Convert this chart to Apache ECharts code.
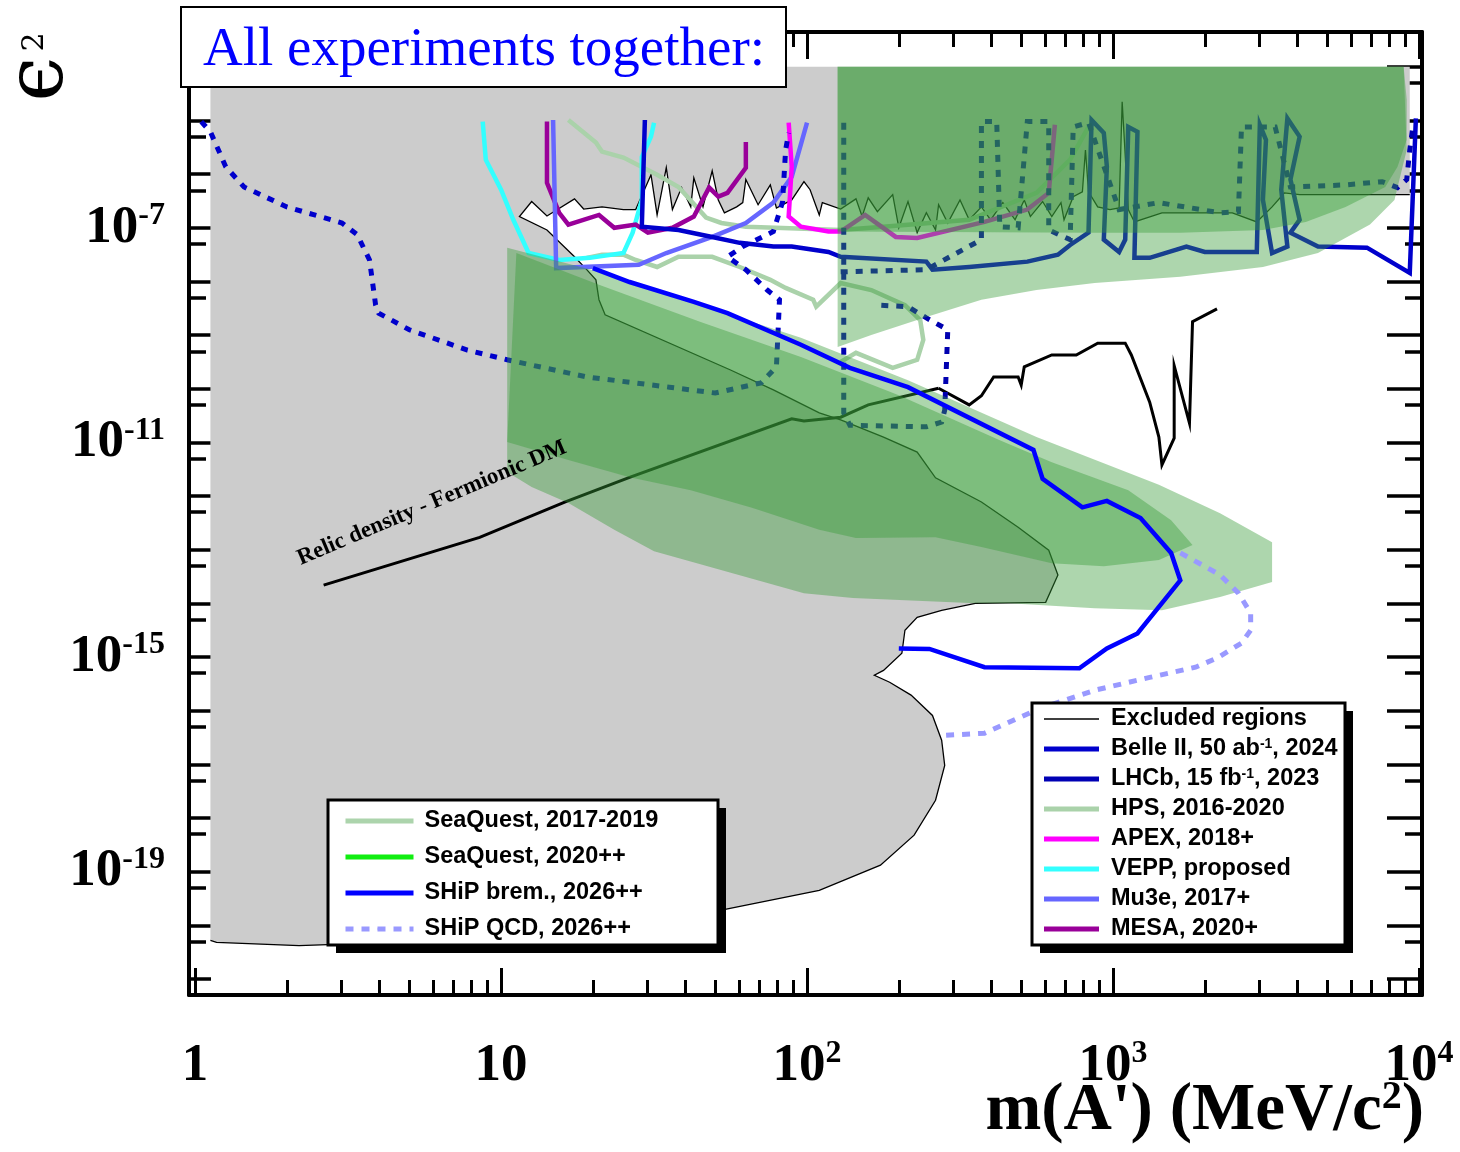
<!DOCTYPE html>
<html>
<head>
<meta charset="utf-8">
<script src="https://cdn.jsdelivr.net/npm/echarts@6/dist/echarts.min.js"></script>
<style>
  html, body { margin: 0; padding: 0; background: #fff; }
  #chart { width: 1460px; height: 1152px; }
</style>
</head>
<body>
<div id="chart"></div>
<script>
// Every curve below is a list of [log10(m / MeV), log10(eps^2)] points.

// Lower edge of the already excluded region (right to left, then down and round)
const excludedEdge = [
  [3.97,-6.38],[3.61,-6.38],[3.56,-6.35],[3.52,-6.61],[3.47,-6.89],[3.39,-6.72],[3.16,-6.72],[3.07,-6.89],
  [3.05,-6.66],[3.03,-4.65],[3.02,-6.63],[2.99,-6.66],[2.95,-6.61],[2.92,-6.33],[2.91,-5.55],[2.90,-6.33],
  [2.87,-6.42],[2.84,-6.85],[2.83,-6.53],[2.80,-6.79],[2.77,-6.51],[2.73,-6.79],[2.71,-6.48],[2.68,-6.85],
  [2.64,-6.53],[2.60,-6.85],[2.57,-6.61],[2.53,-6.85],[2.50,-6.48],[2.46,-6.91],[2.43,-6.57],[2.42,-7.04],
  [2.39,-6.72],[2.36,-7.09],[2.33,-6.51],[2.30,-7.00],[2.28,-6.38],[2.23,-6.70],[2.20,-6.44],[2.18,-6.79],
  [2.16,-6.46],[2.11,-6.65],[2.05,-6.53],[2.04,-6.76],[2.01,-6.29],[1.99,-6.14],[1.95,-6.48],[1.90,-6.63],
  [1.88,-6.20],[1.84,-6.57],[1.80,-6.10],[1.79,-6.53],[1.77,-6.61],[1.73,-6.72],[1.71,-6.48],[1.69,-5.94],
  [1.66,-6.61],[1.63,-6.07],[1.62,-6.61],[1.59,-6.25],[1.56,-6.66],[1.54,-5.88],[1.51,-6.76],[1.49,-6.01],
  [1.44,-6.66],[1.40,-6.66],[1.33,-6.61],[1.27,-6.65],[1.24,-6.46],[1.15,-6.78],[1.10,-6.51],[1.06,-6.79],
  [1.15,-7.04],[1.24,-7.54],[1.28,-7.78],[1.31,-7.97],[1.32,-8.34],[1.34,-8.62],[1.75,-9.65],[1.89,-10.02],
  [2.04,-10.45],[2.11,-10.58],[2.25,-10.90],[2.36,-11.18],[2.42,-11.66],[2.57,-12.11],[2.69,-12.58],
  [2.79,-13.01],[2.82,-13.47],[2.78,-13.98],[2.55,-14.00],[2.44,-14.13],[2.36,-14.26],[2.32,-14.50],
  [2.31,-14.93],[2.25,-15.25],[2.22,-15.34],[2.27,-15.47],[2.34,-15.71],[2.41,-16.09],[2.44,-16.55],
  [2.45,-17.02],[2.42,-17.67],[2.35,-18.32],[2.24,-18.88],[2.04,-19.35],[1.72,-19.72],[1.32,-20.06],
  [0.83,-20.28],[0.34,-20.38],[0.07,-20.32],[0.05,-20.28]
];
// Upper corners of the excluded region
const excludedTop = [[0.05,-4.00],[3.97,-4.00]];

// Beam-dump limit at higher mass
const excludedHighMass = [
  [2.43,-9.99],[2.53,-10.30],[2.57,-10.13],[2.61,-9.78],[2.69,-9.78],[2.70,-9.93],[2.71,-9.59],[2.80,-9.37],
  [2.88,-9.37],[2.95,-9.15],[3.04,-9.15],[3.06,-9.37],[3.12,-10.25],[3.15,-10.90],[3.16,-11.42],[3.20,-10.92],
  [3.20,-9.57],[3.25,-10.64],[3.26,-8.75],[3.34,-8.51]
];

// Relic density target, fermionic dark matter
const relicLine = [
  [0.42,-13.66],[0.93,-12.77],[1.21,-12.11],[1.42,-11.65],[1.95,-10.56],[1.99,-10.60],[2.11,-10.53],
  [2.20,-10.30],[2.43,-9.99]
];

const shipBrem = [
  [1.30,-7.75],[1.42,-8.01],[1.63,-8.38],[1.74,-8.59],[1.98,-9.18],[2.14,-9.61],[2.33,-9.97],[2.74,-11.14],
  [2.77,-11.68],[2.90,-12.21],[2.98,-12.09],[3.09,-12.41],[3.19,-13.06],[3.22,-13.57],[3.08,-14.56],
  [2.98,-14.84],[2.89,-15.21],[2.58,-15.19],[2.40,-14.85],[2.30,-14.84]
];
const shipQCD = [
  [3.22,-13.06],[3.35,-13.47],[3.41,-13.81],[3.45,-14.18],[3.45,-14.50],[3.42,-14.74],[3.34,-15.02],
  [3.27,-15.19],[3.12,-15.38],[2.94,-15.62],[2.76,-15.96],[2.58,-16.42],[2.45,-16.46]
];

const belle2 = [
  [1.47,-4.99],[1.46,-6.98],[1.58,-7.04],[1.69,-7.17],[1.78,-7.28],[1.89,-7.35],[1.95,-7.35],[2.07,-7.45],
  [2.11,-7.54],[2.39,-7.63],[2.41,-7.78],[2.53,-7.73],[2.72,-7.63],[2.82,-7.50],[2.86,-7.32],[2.92,-7.09],
  [2.93,-4.99],[2.97,-5.23],[2.98,-5.86],[2.97,-7.22],[3.02,-7.45],[3.04,-7.22],[3.05,-5.12],[3.08,-5.21],
  [3.07,-7.56],[3.12,-7.56],[3.24,-7.35],[3.30,-7.45],[3.47,-7.45],[3.48,-5.08],[3.50,-5.36],[3.49,-6.48],
  [3.52,-7.47],[3.57,-7.35],[3.55,-6.29],[3.57,-4.96],[3.61,-5.30],[3.58,-6.10],[3.61,-6.85],[3.58,-7.09],
  [3.67,-7.35],[3.83,-7.37],[3.97,-7.84],[3.99,-4.96]
];

const lhcbLowMass = [
  [0.02,-5.02],[0.05,-5.21],[0.10,-5.86],[0.16,-6.24],[0.30,-6.61],[0.39,-6.76],[0.48,-6.91],[0.53,-7.13],
  [0.57,-7.60],[0.59,-8.44],[0.60,-8.59],[0.70,-8.90],[0.89,-9.28],[1.02,-9.46],[1.28,-9.78],[1.55,-9.97],
  [1.70,-10.08],[1.85,-9.89],[1.90,-9.59],[1.91,-8.34],[1.87,-8.16],[1.80,-7.78],[1.74,-7.54],[1.79,-7.35],
  [1.89,-7.07],[1.92,-6.52],[1.93,-5.55],[1.94,-5.23]
];
const lhcbDisplaced = [
  [2.12,-5.04],[2.12,-10.45],[2.14,-10.68],[2.39,-10.71],[2.44,-10.62],[2.45,-10.40],[2.46,-8.90],
  [2.39,-8.68],[2.33,-8.47],[2.23,-8.44]
];
const lhcbPrompt = [
  [2.11,-7.82],[2.39,-7.78],[2.57,-7.22],[2.57,-5.02],[2.62,-5.02],[2.63,-6.98],[2.69,-7.00],[2.72,-5.02],
  [2.79,-5.02],[2.79,-7.04],[2.86,-7.22],[2.87,-5.12],[2.92,-5.04],[3.02,-6.66],[3.15,-6.53],[3.35,-6.72],
  [3.41,-6.70],[3.42,-5.12],[3.53,-5.12],[3.58,-6.24],[3.76,-6.20],[3.88,-6.14],[3.93,-6.25],[3.96,-6.10],
  [3.97,-5.55],[3.98,-5.12]
];

const mu3e = [
  [1.17,-4.99],[1.18,-7.75],[1.45,-7.69],[1.54,-7.47],[1.69,-7.17],[1.80,-6.91],[1.89,-6.53],[1.95,-6.05],
  [2.00,-5.04]
];
const vepp = [
  [0.94,-5.02],[0.95,-5.73],[1.00,-6.29],[1.04,-6.85],[1.09,-7.47],[1.19,-7.60],[1.29,-7.56],[1.40,-7.47],
  [1.43,-7.09],[1.46,-6.48],[1.46,-5.68],[1.49,-5.30],[1.50,-5.04]
];
const mesa = [
  [1.15,-5.02],[1.15,-6.16],[1.19,-6.72],[1.22,-6.94],[1.32,-6.76],[1.37,-7.00],[1.44,-6.94],[1.48,-7.09],
  [1.56,-7.00],[1.63,-6.79],[1.68,-6.25],[1.71,-6.42],[1.74,-6.35],[1.80,-5.88],[1.80,-5.40]
];
const apex = [
  [1.94,-5.04],[1.95,-5.86],[1.94,-6.79],[1.98,-6.98],[2.07,-7.07],[2.11,-7.07],[2.19,-6.76],[2.29,-7.17],
  [2.36,-7.19],[2.58,-6.89],[2.72,-6.66],[2.79,-6.35],[2.81,-5.08]
];
const hpsBump = [
  [1.22,-4.99],[1.31,-5.41],[1.33,-5.58],[1.40,-5.69],[1.51,-6.01],[1.58,-6.24],[1.67,-6.81],[1.72,-6.91],
  [1.80,-6.98],[2.11,-7.04],[2.25,-6.98],[2.53,-6.85],[2.75,-6.35],[2.86,-5.73],[2.92,-5.12]
];
const hpsVertex = [
  [1.28,-7.56],[1.33,-7.50],[1.40,-7.50],[1.44,-7.60],[1.51,-7.73],[1.58,-7.54],[1.69,-7.54],[1.78,-7.73],
  [1.88,-7.97],[1.93,-8.12],[2.02,-8.34],[2.03,-8.47],[2.11,-8.03],[2.21,-8.16],[2.32,-8.44],[2.37,-8.72],
  [2.38,-9.09],[2.36,-9.46],[2.28,-9.61],[2.16,-9.33],[2.11,-9.50]
];

// Shaded SeaQuest reach (overlapping translucent layers)
const seaquestHighOuter = [
  [2.10,-4.00],[3.95,-4.00],[3.96,-5.55],[3.92,-6.48],[3.84,-6.94],[3.67,-7.47],[3.49,-7.73],[3.22,-7.91],
  [2.94,-8.03],[2.75,-8.16],[2.57,-8.34],[2.39,-8.66],[2.21,-9.00],[2.10,-9.22]
];
const seaquestHighInner = [
  [2.10,-4.00],[3.95,-4.00],[3.96,-4.61],[3.96,-5.36],[3.93,-5.86],[3.89,-6.24],[3.76,-6.61],[3.63,-6.89],
  [3.49,-7.04],[3.22,-7.09],[2.94,-7.09],[2.10,-7.07]
];
const seaquestLowOuter = [
  [1.02,-7.37],[1.32,-7.82],[1.65,-8.44],[1.98,-9.05],[2.33,-9.84],[2.75,-10.90],[3.15,-11.79],[3.35,-12.32],
  [3.52,-12.86],[3.52,-13.60],[3.35,-13.88],[3.16,-14.13],[2.94,-14.09],[2.66,-14.00],[2.55,-14.00],
  [2.15,-13.90],[1.99,-13.81],[1.50,-13.03],[1.37,-12.63],[1.22,-12.13],[1.10,-11.83],[1.02,-11.55]
];
const seaquestLowInner = [
  [1.05,-7.47],[1.32,-8.06],[1.65,-8.75],[1.98,-9.41],[2.30,-10.12],[2.63,-10.96],[2.80,-11.37],[3.05,-11.89],
  [3.19,-12.45],[3.26,-12.91],[3.15,-13.19],[2.97,-13.31],[2.80,-13.25],[2.57,-12.95],[2.42,-12.77],
  [2.16,-12.78],[2.04,-12.63],[1.82,-12.22],[1.62,-11.89],[1.42,-11.65],[1.22,-11.33],[1.02,-10.99]
];

// Axis layout
const X_MIN = -0.02, X_MAX = 4.01, Y_MIN = -21.3, Y_MAX = -3.35;
const xDecades = [0, 1, 2, 3, 4];
const xLabelDecades = [0, 1, 2, 3, 4];
const yDecades = [];
for (let n = -21; n <= -4; n++) yDecades.push(n);
const yLabelDecades = [-19, -15, -11, -7];
const xSubTicks = [];
for (let n = 0; n <= 3; n++) for (let k = 2; k <= 9; k++) xSubTicks.push(n + Math.log10(k));
const ySubTicks = [];
for (let n = -20; n <= -4; n++) ySubTicks.push(n - Math.log10(2));

const SERIF = '"Liberation Serif", "Times New Roman", serif';
const SANS = '"Liberation Sans", Arial, Helvetica, sans-serif';
const GREEN = 'rgba(55,155,55,0.41)';

const axisRich = {
  b: { fontFamily: SERIF, fontWeight: 'bold', fontSize: 53, lineHeight: 56, color: '#000' },
  s: { fontFamily: SERIF, fontWeight: 'bold', fontSize: 32, lineHeight: 30, verticalAlign: 'top', color: '#000' }
};
function xLabel(v) {
  const n = Math.round(v);
  if (n === 0) return '{b|1}';
  if (n === 1) return '{b|10}';
  return '{b|10}{s|' + n + '}';
}
function yLabel(v) {
  return '{b|10}{s|' + Math.round(v) + '}';
}

function xAxisDef(position, ticks, len, withLine, labels) {
  return {
    type: 'value', min: X_MIN, max: X_MAX, position,
    axisLine: { show: withLine, onZero: false, lineStyle: { color: '#000', width: 4 } },
    axisTick: { show: true, inside: true, length: len, customValues: ticks, lineStyle: { color: '#000', width: 3 } },
    axisLabel: labels
      ? { show: true, customValues: labels, margin: 43, formatter: xLabel, rich: axisRich }
      : { show: false },
    splitLine: { show: false }
  };
}
function yAxisDef(position, ticks, len, withLine, labels) {
  return {
    type: 'value', min: Y_MIN, max: Y_MAX, position,
    axisLine: { show: withLine, onZero: false, lineStyle: { color: '#000', width: 4 } },
    axisTick: { show: true, inside: true, length: len, customValues: ticks, lineStyle: { color: '#000', width: 3.5 } },
    axisLabel: labels
      ? { show: true, customValues: labels, margin: 24, formatter: yLabel, rich: axisRich }
      : { show: false },
    splitLine: { show: false }
  };
}

function area(name, pts, color, z) {
  return {
    type: 'custom', name, z, silent: true, animation: false,
    coordinateSystem: 'cartesian2d', encode: { x: 0, y: 1 }, clip: true,
    data: pts,
    renderItem(params, api) {
      if (params.dataIndexInside !== 0) return null;
      const points = [];
      for (let i = 0; i < pts.length; i++) {
        points.push(api.coord([api.value(0, i), api.value(1, i)]));
      }
      return { type: 'polygon', shape: { points }, style: { fill: color } };
    }
  };
}
function curve(name, pts, color, width, type, z) {
  return {
    type: 'line', name, z, data: pts, silent: true, animation: false,
    symbol: 'none', showSymbol: false, smooth: false, clip: true,
    lineStyle: { color, width, type: type || 'solid', cap: 'butt', join: 'miter' },
    itemStyle: { color }
  };
}

// Legend text: a fixed-width spacer after the icon, then the entry with "^n" shown as a superscript
function legendFormat(name) {
  return '{g| }{t|' + name.replace(/\^(-?\d+)/, '}{s|$1}{t|') + '}';
}
function legendTextStyle(lineHeight, gap) {
  const base = { fontFamily: SANS, fontWeight: 'bold', fontSize: 23.5, color: '#000', lineHeight };
  return Object.assign({}, base, {
    rich: {
      g: Object.assign({}, base, { width: gap }),
      t: Object.assign({}, base),
      s: { fontFamily: SANS, fontWeight: 'bold', fontSize: 14, color: '#000', verticalAlign: 'top', lineHeight: 14 }
    }
  });
}
const legendBase = {
  orient: 'vertical', backgroundColor: 'transparent', borderWidth: 0,
  selectedMode: false, itemHeight: 5, z: 30, formatter: legendFormat,
  lineStyle: { width: 5 }
};
// Thin bar centred in the 5px icon box, used for the black legend entry
const THIN_BAR = 'path://M0,0L0.01,0L0,0.01Z M0,1L100,1L100,4L0,4Z M0,5L0.01,5L0,5.01Z';

// Frames of the two legend panels, with their solid drop shadows
const legendFrames = [
  { x: 328, y: 800, width: 390, height: 145 },
  { x: 1032, y: 703, width: 313, height: 242 }
];
const frameGraphics = [];
legendFrames.forEach(f => {
  frameGraphics.push({ type: 'rect', z: 20, shape: { x: f.x + 8, y: f.y + 8, width: f.width, height: f.height },
                       style: { fill: '#000' } });
  frameGraphics.push({ type: 'rect', z: 21, shape: { x: f.x, y: f.y, width: f.width, height: f.height },
                       style: { fill: '#fff', stroke: '#000', lineWidth: 3 } });
});

const chart = echarts.init(document.getElementById('chart'), null, { renderer: 'canvas' });
chart.setOption({
  animation: false,
  backgroundColor: '#fff',
  grid: { left: 189, right: 38, top: 32, bottom: 157, containLabel: false, outerBoundsMode: 'none' },
  xAxis: [
    xAxisDef('bottom', xDecades, 27, true, xLabelDecades),
    xAxisDef('bottom', xSubTicks, 15, false, null),
    xAxisDef('top', xDecades, 27, true, null),
    xAxisDef('top', xSubTicks, 15, false, null)
  ],
  yAxis: [
    yAxisDef('left', yDecades, 22, true, yLabelDecades),
    yAxisDef('left', ySubTicks, 17, false, null),
    yAxisDef('right', yDecades, 35, true, null),
    yAxisDef('right', ySubTicks, 17, false, null)
  ],
  legend: [
    Object.assign({}, legendBase, {
      left: 328, top: 802, itemWidth: 68, itemGap: 10.0, padding: [6, 10, 6, 15],
      textStyle: legendTextStyle(26, 6),
      data: [
        { name: 'SeaQuest, 2017-2019', icon: 'rect', itemStyle: { color: '#acd4ac' } },
        { name: 'SeaQuest, 2020++', icon: 'rect', itemStyle: { color: '#11ee11' } },
        { name: 'SHiP brem., 2026++', icon: 'rect', itemStyle: { color: '#0000ff' } },
        { name: 'SHiP QCD, 2026++' }
      ]
    }),
    Object.assign({}, legendBase, {
      left: 1032, top: 704, itemWidth: 55, itemGap: 6.0, padding: [3, 8, 3, 12],
      textStyle: legendTextStyle(24, 7),
      data: [
        { name: 'Excluded regions', icon: THIN_BAR, itemStyle: { color: '#000' } },
        { name: 'Belle II, 50 ab^-1, 2024', icon: 'rect', itemStyle: { color: '#0000cc' } },
        { name: 'LHCb, 15 fb^-1, 2023', icon: 'rect', itemStyle: { color: '#0000b4' } },
        { name: 'HPS, 2016-2020', icon: 'rect', itemStyle: { color: '#aad2aa' } },
        { name: 'APEX, 2018+', icon: 'rect', itemStyle: { color: '#ff00ff' } },
        { name: 'VEPP, proposed', icon: 'rect', itemStyle: { color: '#33ffff' } },
        { name: 'Mu3e, 2017+', icon: 'rect', itemStyle: { color: '#6666ff' } },
        { name: 'MESA, 2020+', icon: 'rect', itemStyle: { color: '#990099' } }
      ]
    })
  ],
  series: [
    area('Excluded area', excludedTop.concat(excludedEdge), '#cccccc', 1),
    curve('Excluded regions', excludedEdge, '#000', 1.3, 'solid', 2),
    curve('Excluded regions', excludedHighMass, '#000', 3, 'solid', 2),
    curve('Relic density - Fermionic DM', relicLine, '#000', 3, 'solid', 2),
    curve('HPS, 2016-2020', hpsBump, '#aad2aa', 4.5, 'solid', 2),
    curve('HPS, 2016-2020', hpsVertex, '#aad2aa', 4.5, 'solid', 2),
    curve('VEPP, proposed', vepp, '#33ffff', 4.5, 'solid', 2),
    curve('MESA, 2020+', mesa, '#990099', 4.5, 'solid', 2),
    curve('Mu3e, 2017+', mu3e, '#6666ff', 4.5, 'solid', 2),
    curve('APEX, 2018+', apex, '#ff00ff', 4.5, 'solid', 2),
    curve('Belle II, 50 ab^-1, 2024', belle2, '#0000cc', 4.5, 'solid', 2),
    curve('LHCb, 15 fb^-1, 2023', lhcbLowMass, '#0000cc', 5, [7, 8], 2),
    curve('LHCb, 15 fb^-1, 2023', lhcbDisplaced, '#0000b0', 5, [7, 8], 2),
    curve('LHCb, 15 fb^-1, 2023', lhcbPrompt, '#0000b0', 5, [7, 8], 2),
    area('SeaQuest, 2017-2019', seaquestHighOuter, GREEN, 3),
    area('SeaQuest, 2017-2019', seaquestHighInner, GREEN, 3),
    area('SeaQuest, 2017-2019', seaquestLowOuter, GREEN, 3),
    area('SeaQuest, 2017-2019', seaquestLowInner, GREEN, 3),
    curve('SeaQuest, 2020++', [], '#11ee11', 5, 'solid', 4),
    curve('SHiP brem., 2026++', shipBrem, '#0000ff', 4.5, 'solid', 4),
    curve('SHiP QCD, 2026++', shipQCD, '#9999ff', 5, [8, 8], 4)
  ],
  graphic: frameGraphics.concat([
    { type: 'rect', z: 100, shape: { x: 181, y: 7, width: 605, height: 80 },
      style: { fill: '#fff', stroke: '#000', lineWidth: 2 } },
    { type: 'text', z: 101, x: 203, y: 51,
      style: { text: 'All experiments together:', fontFamily: SERIF, fontSize: 55, fill: '#0000ff',
               align: 'left', verticalAlign: 'middle' } },
    { type: 'text', z: 101, x: 41, y: 79, rotation: Math.PI / 2,
      style: { text: 'ϵ', fontFamily: '"DejaVu Serif", serif', fontSize: 80, fill: '#000',
               align: 'center', verticalAlign: 'middle' } },
    { type: 'text', z: 101, x: 35, y: 42, rotation: Math.PI / 2,
      style: { text: '2', fontFamily: '"DejaVu Serif", serif', fontSize: 30, fill: '#000',
               align: 'center', verticalAlign: 'middle' } },
    { type: 'text', z: 101, x: 1424, y: 1112,
      style: { text: "{a|m(A') (MeV/c}{s|2}{a|)}", fill: '#000', align: 'right', verticalAlign: 'middle',
               rich: {
                 a: { fontFamily: SERIF, fontWeight: 'bold', fontSize: 67, lineHeight: 68 },
                 s: { fontFamily: SERIF, fontWeight: 'bold', fontSize: 40, lineHeight: 40, verticalAlign: 'top' }
               } } },
    { type: 'text', z: 50, x: 432, y: 503, rotation: 0.40,
      style: { text: 'Relic density - Fermionic DM', fontFamily: SERIF, fontWeight: 'bold', fontSize: 23,
               fill: '#000', align: 'center', verticalAlign: 'middle' } }
  ])
});
</script>
</body>
</html>
